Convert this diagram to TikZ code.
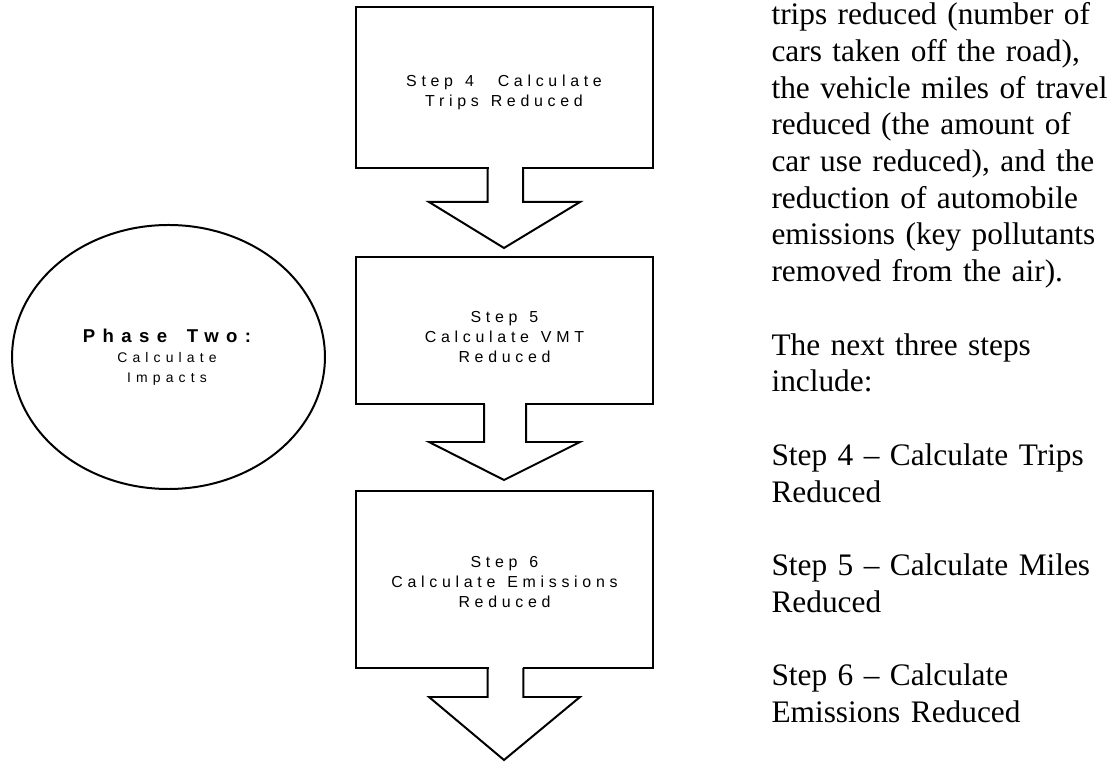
\documentclass[tikz,border=0pt]{standalone}
\usepackage{fontspec}
\setmainfont{Liberation Serif}
\newfontfamily\boxfont[LetterSpace=29.5]{Liberation Sans}
\newfontfamily\phasefont[LetterSpace=40]{Liberation Sans}
\newfontfamily\impactfont[LetterSpace=37]{Liberation Sans}
\usetikzlibrary{shapes.geometric}

\tikzset{
  stepbox/.style={draw, line width=1pt, minimum width=111.8pt, inner sep=0pt},
  steptext/.style={align=center, text width=100pt, inner sep=0pt,
    font=\boxfont\fontsize{6}{7.5}\selectfont,
    execute at begin node={\spaceskip=0.75em\relax}},
  blockarrow/.style={line width=0.75pt, line join=miter},
  notes/.style={align=left, text width=135pt, inner sep=0pt,
    font=\fontsize{11.8}{13.8}\selectfont}
}

\begin{document}
\begin{tikzpicture}[x=0.3765pt, y=-0.3765pt]
\useasboundingbox (0,0) rectangle (1112,763);

% phase
\node[draw, ellipse, line width=0.75pt, inner sep=0pt,
  minimum width=117.8pt, minimum height=99.4pt] (phase) at (168.5,357) {};
\node[align=center, text width=110pt, inner sep=0pt, anchor=base,
  font=\impactfont\fontsize{5.25}{7.5}\selectfont] (phasetext) at (167,342.7)
  {{\phasefont\bfseries\fontsize{7}{7.5}\selectfont\spaceskip=1.05em\relax Phase Two:}\\Calculate\\Impacts};

% steps
\node[stepbox, minimum height=60.6pt] (step4) at (504.5,87.5) {};
\node[stepbox, minimum height=55.3pt] (step5) at (504.5,330.5) {};
\node[stepbox, minimum height=66.6pt] (step6) at (504.5,579.5) {};

\node[steptext, anchor=base] (lab4) at (504,87) {Step 4\ \ Calculate\\Trips Reduced};
\node[steptext, anchor=base] (lab5) at (504.5,323) {Step 5\\Calculate VMT\\Reduced};
\node[steptext, anchor=base] (lab6) at (504.5,568) {Step 6\\Calculate Emissions\\Reduced};

% block arrows
\fill[white] (488.5,164) rectangle (522.2,172);
\draw[blockarrow] (487.7,168) -- (487.7,202) -- (429,202) -- (504,248)
  -- (580,202) -- (523,202) -- (523,168);
\fill[white] (484.8,400) rectangle (525.2,408);
\draw[blockarrow] (484,404) -- (484,442) -- (429,442) -- (504,480)
  -- (580,442) -- (526,442) -- (526,404);
\fill[white] (488.5,664) rectangle (522.5,672);
\draw[blockarrow] (487.7,668) -- (487.7,697) -- (429,697) -- (504,760)
  -- (580,697) -- (523.3,697) -- (523.3,668);

% notes
\node[notes, anchor=base west] (intro) at (771,25) {trips reduced (number of\\
  cars taken off the road),\\
  the vehicle miles of travel\\
  reduced (the amount of\\
  car use reduced), and the\\
  reduction of automobile\\
  emissions (key pollutants\\
  removed from the air).};
\node[notes, anchor=base west] (next) at (771,355.3) {The next three steps\\include:};
\node[notes, anchor=base west] (s4) at (771,465.4) {Step 4 -- Calculate Trips\\Reduced};
\node[notes, anchor=base west] (s5) at (771,575.5) {Step 5 -- Calculate Miles\\Reduced};
\node[notes, anchor=base west] (s6) at (771,685.6) {Step 6 -- Calculate\\Emissions Reduced};
\end{tikzpicture}
\end{document}
